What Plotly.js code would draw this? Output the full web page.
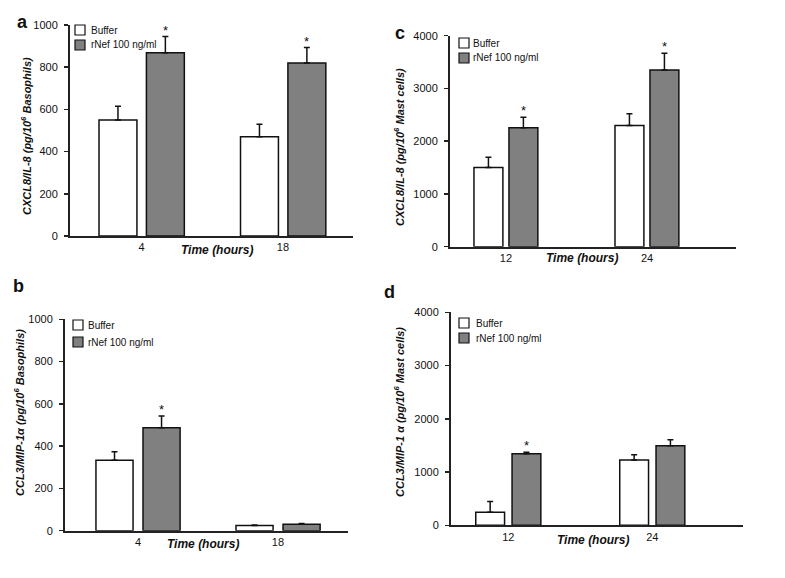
<!DOCTYPE html>
<html>
<head>
<meta charset="utf-8">
<script src="https://cdn.plot.ly/plotly-3.0.1.min.js"></script>
<style>html,body{margin:0;padding:0;background:#fff}#chart{width:785px;height:578px}</style>
</head>
<body>
<div id="chart"></div>
<script>
// ---- data ----
const seriesNames = ['Buffer', 'rNef 100 ng/ml'];
const timesBaso = ['4', '18'];
const timesMast = ['12', '24'];

// panel a: CXCL8/IL-8, basophils
const aBuffer = [550, 470];
const aBufferErr = [65, 60];
const aNef = [868, 820];
const aNefErr = [77, 73];
const aNefSig = [true, true];

// panel b: CCL3/MIP-1a, basophils
const bBuffer = [333, 25];
const bBufferErr = [40, 2];
const bNef = [487, 30];
const bNefErr = [56, 4];
const bNefSig = [true, false];

// panel c: CXCL8/IL-8, mast cells
const cBuffer = [1500, 2300];
const cBufferErr = [195, 220];
const cNef = [2255, 3350];
const cNefErr = [197, 315];
const cNefSig = [true, true];

// panel d: CCL3/MIP-1a, mast cells
const dBuffer = [245, 1225];
const dBufferErr = [200, 100];
const dNef = [1345, 1495];
const dNefErr = [25, 110];
const dNefSig = [true, false];

const yTitles = [
  'CXCL8/IL-8 (pg/10<sup>6</sup> Basophils)',
  'CCL3/MIP-1α (pg/10<sup>6</sup> Basophils)',
  'CXCL8/IL-8 (pg/10<sup>6</sup> Mast cells)',
  'CCL3/MIP-1 α (pg/10<sup>6</sup> Mast cells)'
];
const panelLetters = ['a', 'b', 'c', 'd'];
const xTitle = 'Time (hours)';

// ---- styling / layout helpers ----
const W = 785, H = 578;
const px = v => v / W;
const py = v => 1 - v / H;
const FONT = 'Liberation Sans, Arial, sans-serif';
const seriesColors = ['#ffffff', '#808080'];
const INK = '#111';

const panels = [
  {cats: timesBaso, buf: aBuffer, bufE: aBufferErr, nef: aNef, nefE: aNefErr, sig: aNefSig,
   xd: [70, 353], yd: [236, 25], xr: [-0.505, 1.495], yr: [0, 1000], dtick: 200,
   w: 0.268, o1: -0.3, o2: 0.035,
   ytPos: [26, 136], xtPos: [217, 250], letPos: [22, 22],
   leg: {x: 75, ys: [25, 40], size: 10, tx: 89}},
  {cats: timesBaso, buf: bBuffer, bufE: bBufferErr, nef: bNef, nefE: bNefErr, sig: bNefSig,
   xd: [65, 348], yd: [530.7, 319.3], xr: [-0.521, 1.5], yr: [0, 1000], dtick: 200,
   w: 0.265, o1: -0.3, o2: 0.036,
   ytPos: [19, 413], xtPos: [203, 544], letPos: [18, 286],
   leg: {x: 73, ys: [320, 337], size: 10, tx: 86}},
  {cats: timesMast, buf: cBuffer, bufE: cBufferErr, nef: cNef, nefE: cNefErr, sig: cNefSig,
   xd: [450, 735.7], yd: [246.7, 35.7], xr: [-0.397, 1.629], yr: [0, 4000], dtick: 1000,
   w: 0.205, o1: -0.227, o2: 0.021,
   ytPos: [399, 147], xtPos: [582, 258], letPos: [400, 33],
   leg: {x: 459, ys: [38, 53], size: 10, tx: 471}},
  {cats: timesMast, buf: dBuffer, bufE: dBufferErr, nef: dNef, nefE: dNefErr, sig: dNefSig,
   xd: [451, 742.7], yd: [525.3, 312.3], xr: [-0.398, 1.628], yr: [0, 4000], dtick: 1000,
   w: 0.2, o1: -0.226, o2: 0.026,
   ytPos: [399, 412], xtPos: [593, 540], letPos: [389, 292],
   leg: {x: 459, ys: [318, 333], size: 10, tx: 474}}
];

const data = [];
const layout = {
  width: W, height: H,
  margin: {l: 0, r: 0, t: 0, b: 0},
  paper_bgcolor: '#fff', plot_bgcolor: '#fff',
  barmode: 'overlay', showlegend: false,
  font: {family: FONT, size: 11, color: '#222'},
  annotations: [], shapes: []
};

panels.forEach((p, i) => {
  const n = i === 0 ? '' : String(i + 1);
  const xa = 'x' + n, ya = 'y' + n;
  const series = [[p.buf, p.bufE, p.o1], [p.nef, p.nefE, p.o2]];
  series.forEach((s, j) => {
    data.push({
      type: 'bar', name: seriesNames[j], x: p.cats, y: s[0],
      xaxis: xa, yaxis: ya, showlegend: false,
      width: p.w, offset: s[2],
      marker: {color: seriesColors[j], line: {color: INK, width: 1.5}},
      error_y: {type: 'data', array: s[1], arrayminus: s[1].map(() => 0), symmetric: false,
                color: INK, thickness: 1.5, width: 3}
    });
  });
  layout['xaxis' + n] = {
    domain: [px(p.xd[0]), px(p.xd[1])], anchor: ya, type: 'category',
    range: p.xr, showline: true, linecolor: '#222', linewidth: 2,
    ticks: '', showgrid: false, zeroline: false, fixedrange: true,
    tickfont: {family: FONT, size: 11, color: '#111'}
  };
  layout['yaxis' + n] = {
    domain: [py(p.yd[0]), py(p.yd[1])], anchor: xa,
    range: p.yr, dtick: p.dtick, tick0: 0, showline: true, linecolor: '#222', linewidth: 2,
    ticks: 'outside', ticklen: 4, tickwidth: 1.5, tickcolor: '#222',
    showgrid: false, zeroline: false, fixedrange: true, ticklabelstandoff: 4,
    tickfont: {family: FONT, size: 11, color: '#111'}
  };
  // legend (squares + labels)
  seriesNames.forEach((nm, j) => {
    const y0 = p.leg.ys[j];
    layout.shapes.push({
      type: 'rect', xref: 'paper', yref: 'paper',
      x0: px(p.leg.x), x1: px(p.leg.x + p.leg.size),
      y0: py(y0), y1: py(y0 + p.leg.size),
      fillcolor: seriesColors[j], line: {color: INK, width: 1.2}
    });
    layout.annotations.push({
      xref: 'paper', yref: 'paper', x: px(p.leg.tx), y: py(y0 + p.leg.size / 2),
      text: nm, showarrow: false, xanchor: 'left', yanchor: 'middle',
      font: {family: FONT, size: 10, color: '#111'}
    });
  });
  // significance stars
  p.sig.forEach((s, k) => {
    if (!s) return;
    layout.annotations.push({
      xref: xa, yref: ya, x: k + p.o2 + p.w / 2, y: p.nef[k] + p.nefE[k],
      text: '*', showarrow: false, yanchor: 'bottom', yshift: -3,
      font: {family: FONT, size: 13, color: '#111'}
    });
  });
  // y title
  layout.annotations.push({
    xref: 'paper', yref: 'paper', x: px(p.ytPos[0]), y: py(p.ytPos[1]),
    text: yTitles[i], textangle: -90, showarrow: false, xanchor: 'center', yanchor: 'middle',
    font: {family: FONT, size: 11, color: '#111', weight: 'bold', style: 'italic'}
  });
  // x title
  layout.annotations.push({
    xref: 'paper', yref: 'paper', x: px(p.xtPos[0]), y: py(p.xtPos[1]),
    text: xTitle, showarrow: false, xanchor: 'center', yanchor: 'middle',
    font: {family: FONT, size: 12, color: '#111', weight: 'bold', style: 'italic'}
  });
  // panel letter
  layout.annotations.push({
    xref: 'paper', yref: 'paper', x: px(p.letPos[0]), y: py(p.letPos[1]),
    text: panelLetters[i], showarrow: false, xanchor: 'center', yanchor: 'middle',
    font: {family: FONT, size: 18, color: '#111', weight: 'bold'}
  });
});

Plotly.newPlot('chart', data, layout, {displayModeBar: false, staticPlot: true});
</script>
</body>
</html>
